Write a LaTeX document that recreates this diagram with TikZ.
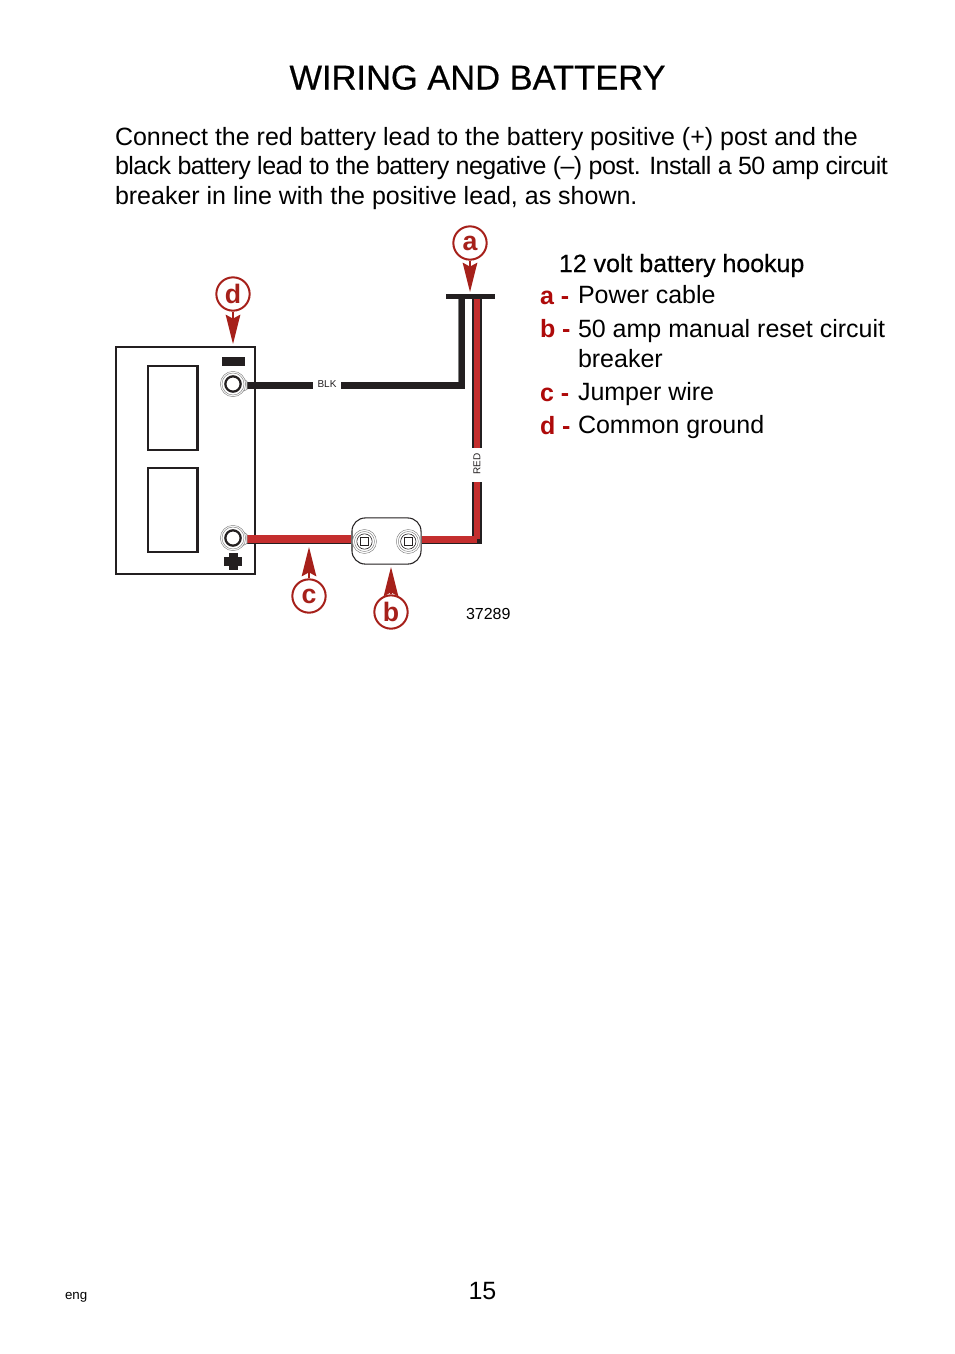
\documentclass[tikz,border=0pt]{standalone}
\usepackage{fontspec}
\setmainfont{Liberation Sans}
\newfontfamily\fakebold[FakeBold=0.5]{Liberation Sans}
\newfontfamily\tightfont[LetterSpace=-2.15]{Liberation Sans}
\usetikzlibrary{arrows.meta}
\definecolor{calloutred}{HTML}{A6201A}
\definecolor{keyred}{HTML}{AE0A0A}
\definecolor{wirered}{HTML}{C42E2E}
\definecolor{inkblack}{HTML}{231F20}
\tikzset{
  x=0.75pt,y=-0.75pt,
  txt/.style={anchor=base west,inner sep=0pt,outer sep=0pt,text=black},
  bodytxt/.style={txt,font=\fontsize{18.75}{19}\selectfont},
  legendtxt/.style={txt,font=\fontsize{18.75}{19}\selectfont},
  legendkey/.style={txt,text=keyred,font=\bfseries\fontsize{18.75}{19}\selectfont},
  callout/.style={circle,draw=calloutred,line width=1.5pt,minimum size=25pt,inner sep=0pt,text=calloutred,font=\bfseries\fontsize{20}{20}\selectfont},
  calloutarrow/.style={draw=calloutred,line width=1.1pt,-{Stealth[length=22pt,width=11pt,inset=3pt,color=calloutred]}},
  outline/.style={draw=inkblack,line width=1.7pt},
  blackh/.style={draw=inkblack,line width=5.2pt},
  blackv/.style={draw=inkblack,line width=4.6pt},
  redouter/.style={draw=inkblack,line width=7.1pt},
  redinner/.style={draw=wirered,line width=3.8pt},
  redflat/.style={draw=wirered,line width=5.4pt},
  inkfill/.style={fill=inkblack,draw=none},
  smalllabel/.style={inner sep=0pt,text=inkblack,font=\fontsize{7.5}{7.5}\selectfont},
  ring/.style={circle,draw=gray,line width=0.35pt,fill=white,inner sep=0pt},
  darkring/.style={circle,draw=inkblack,line width=0.45pt,fill=white,inner sep=0pt},
  boltsq/.style={rectangle,draw=inkblack,line width=0.5pt,fill=white,minimum size=5.6pt,inner sep=0pt},
  lug/.style={circle,draw=inkblack,line width=1.7pt,fill=white,minimum size=11.5pt,inner sep=0pt},
  lugbody/.style={fill=white,draw=gray,line width=0.4pt},
}
\begin{document}
\begin{tikzpicture}
\useasboundingbox[fill=white] (0,0) rectangle (954,1354);

\node[txt,font=\fakebold\fontsize{25.85}{26}\selectfont] (title) at (289.5,89.5) {WIRING AND BATTERY};
\node[bodytxt] (l1) at (115,145) {Connect the red battery lead to the battery positive (+) post and the};
\node[bodytxt,font=\tightfont\fontsize{18.75}{19}\selectfont] (l2) at (115,174.5) {black battery lead to the battery negative (–) post. Install a 50 amp circuit};
\node[bodytxt] (l3) at (115,204.5) {breaker in line with the positive lead, as shown.};

\node[txt,font=\fakebold\fontsize{18.7}{19}\selectfont] (lh) at (559,272) {12 volt battery hookup};
\node[legendkey] (ka) at (540,304) {a -};
\node[legendtxt] (ta) at (578,303.5) {Power cable};
\node[legendkey] (kb) at (540,337.5) {b -};
\node[legendtxt] (tb) at (578,337.5) {50 amp manual reset circuit};
\node[legendtxt] (tb2) at (578,367.5) {breaker};
\node[legendkey] (kc) at (540,401) {c -};
\node[legendtxt] (tc) at (578,400.5) {Jumper wire};
\node[legendkey] (kd) at (540,434) {d -};
\node[legendtxt] (td) at (578,433.5) {Common ground};

% battery
\draw[outline] (116,347) rectangle (255,574);
\draw[outline] (148,366) rectangle (197.5,450);
\draw[outline] (148,468) rectangle (197.5,552);
\fill[inkfill] (222,357) rectangle (245,366);
\fill[inkfill] (224,557) rectangle (242,566);
\fill[inkfill] (228.5,553) rectangle (237.5,570);

% coordinates for wires
\coordinate (blkA) at (246,385.5);
\coordinate (blkB) at (313,385.5);
\coordinate (blkC) at (341,385.5);
\coordinate (blkD) at (465,385.5);
\coordinate (blkE) at (462,297);
\coordinate (blkF) at (462,389);
\coordinate (blkG) at (462,382);
\coordinate (redTop) at (477,297);
\coordinate (redB) at (477,448);
\coordinate (redC) at (477,482);
\coordinate (redD) at (477,544);
\coordinate (redE) at (477,539.3);
\coordinate (barL) at (446,296.5);
\coordinate (barR) at (495,296.5);

% breaker
\node[draw=inkblack,line width=0.8pt,rounded corners=10pt,fill=white,minimum width=51.8pt,minimum height=34.6pt,inner sep=0pt] (breaker) at (386.5,541) {};

% black wire
\draw[blackh] (blkA) -- (blkB);
\draw[blackh] (blkC) -- (blkD);
\draw[blackv] (blkE) -- (blkF);
\draw[draw=gray,line width=0.5pt] ([xshift=-2.6pt]blkE) -- ([xshift=-2.6pt]blkG);
\node[smalllabel] (blk) at (327,384) {BLK};

% red wire
\draw[redouter] (redTop) -- (redB);
\draw[redinner] (redTop) -- (redB);
\draw[redouter] (redC) -- (redD);
\draw[redinner] (redC) -- (redE);
\draw[draw=inkblack,line width=0.9pt] ([yshift=-3.1pt]redE) -- ([yshift=-3.1pt]redE -| breaker.east);
\draw[redflat] (redE) -- (redE -| breaker.east);
\node[smalllabel,rotate=90] (red) at (477,464) {RED};
\draw[line width=3.8pt,draw=inkblack] (barL) -- (barR);

% jumper
\coordinate (jumpA) at (246,539);
\draw[draw=inkblack,line width=0.9pt] ([yshift=-3.1pt]jumpA) -- ([yshift=-3.1pt]jumpA -| breaker.west);
\draw[draw=gray,line width=0.4pt] ([yshift=3pt]jumpA) -- ([yshift=3pt]jumpA -| breaker.west);
\draw[redflat] (jumpA) -- (jumpA -| breaker.west);

% terminals
\filldraw[lugbody] (238,373.5) -- (247,381.5) -- (247,389.5) -- (238,393.5) -- cycle;
\node[ring,minimum size=19pt] (tm) at (233,384) {};
\node[ring,minimum size=16.5pt] (tm2) at (233,384) {};
\node[lug] (tmi) at (233,384) {};
\filldraw[lugbody] (238,528) -- (247,534.5) -- (247,543.5) -- (238,548) -- cycle;
\node[ring,minimum size=19pt] (tp) at (233,538) {};
\node[ring,minimum size=16.5pt] (tp2) at (233,538) {};
\node[lug] (tpi) at (233,538) {};

% bolts
\node[ring,minimum size=18pt] (b1) at (364.5,541.5) {};
\node[ring,minimum size=15pt] at (364.5,541.5) {};
\node[darkring,minimum size=11.5pt] at (364.5,541.5) {};
\node[boltsq] at (364.5,541.5) {};
\node[ring,minimum size=18pt] (b2) at (408.3,541.5) {};
\node[ring,minimum size=15pt] at (408.3,541.5) {};
\node[darkring,minimum size=11.5pt] at (408.3,541.5) {};
\node[boltsq] at (408.3,541.5) {};

% callouts
\node[callout] (ca) at (470,243) {a};
\coordinate (tipa) at (470,292);
\draw[calloutarrow] (ca) -- (tipa);
\node[callout] (cd) at (233,294) {d};
\coordinate (tipd) at (233,344);
\draw[calloutarrow] (cd) -- (tipd);
\node[callout] (cc) at (309,596) {c};
\coordinate (tipc) at (309,547);
\draw[calloutarrow] (cc) -- (tipc);
\node[callout] (cb) at (391,612) {b};
\coordinate (tipb) at (391,567);
\draw[calloutarrow] (cb) -- (tipb);

\node[txt,font=\fontsize{12}{12}\selectfont] (num) at (466,619) {37289};
\node[txt,font=\fontsize{10}{10}\selectfont] (eng) at (65,1299) {eng};
\node[txt,font=\fontsize{18.75}{19}\selectfont] (pg) at (468.5,1299) {15};
\end{tikzpicture}
\end{document}
